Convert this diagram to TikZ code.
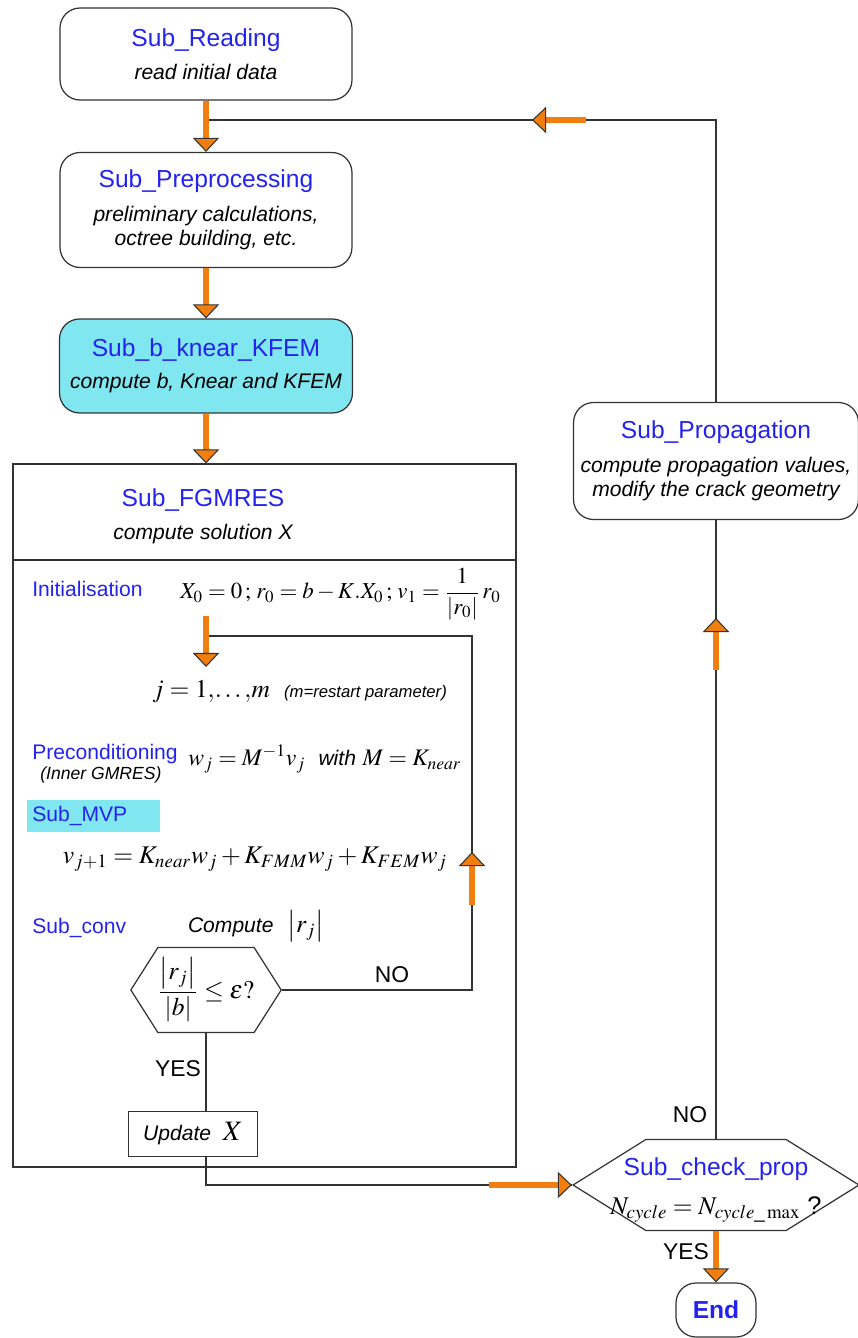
\documentclass[tikz,border=0pt]{standalone}
\usepackage{amsmath}
\usepackage{mathptmx}
\usepackage[no-math]{fontspec}
\setmainfont{Liberation Sans}
\usepackage{xcolor}
\usepackage{tikz}
\usetikzlibrary{arrows.meta,positioning,shapes.symbols,calc}
\definecolor{subblue}{HTML}{2323F0}
\definecolor{flowor}{HTML}{F07F10}
\definecolor{cyanfill}{HTML}{80E6F0}
\definecolor{linegray}{HTML}{333333}
\newcommand{\subttl}[1]{{\color{subblue}\fontsize{14}{14}\selectfont\upshape #1}}

\begin{document}
\begin{tikzpicture}[x=0.02cm,y=-0.02cm,
  font=\fontsize{12}{14}\selectfont,
  box/.style={draw=linegray,line width=0.7pt,rounded corners=0.4cm,align=center,
              font=\fontsize{12}{14}\selectfont\itshape},
  lbl/.style={text=subblue,anchor=west,inner sep=0pt},
  eq/.style={font=\fontsize{14.5}{17}\selectfont,inner sep=0pt},
  hex/.style={draw=linegray,line width=0.7pt,signal,signal to=west and east,inner sep=0pt},
  conn/.style={draw=linegray,line width=0.7pt},
  arr/.style={draw=flowor,line width=3.6pt,
              -{Triangle[length=8pt,width=15pt,color=linegray,fill=flowor,line width=0.6pt]}},
  ans/.style={font=\fontsize{13}{15}\selectfont}
]
\useasboundingbox (0,0) rectangle (858,1338);

% main chain
\node[box,minimum width=5.84cm,minimum height=1.84cm] (read) at (206,54)
  {\subttl{Sub\_Reading}\\[5pt]read initial data};
\node[box,minimum width=5.84cm,minimum height=2.3cm] (pre) at (206,210)
  {\subttl{Sub\_Preprocessing}\\[5pt]preliminary calculations,\\octree building, etc.};
\node[box,fill=cyanfill,minimum width=5.86cm,minimum height=1.88cm] (kfem) at (206,366)
  {\subttl{Sub\_b\_knear\_KFEM}\\[4pt]compute b, Knear and KFEM};
\node[box,minimum width=5.7cm,minimum height=2.34cm] (prop) at (716,461)
  {\subttl{Sub\_Propagation}\\[5pt]compute propagation values,\\modify the crack geometry};

% FGMRES block
\node[draw=linegray,line width=0.7pt,minimum width=10.06cm,minimum height=14.06cm,inner sep=0pt] (fg) at (264.5,815.5) {};
\node[align=center,font=\fontsize{12}{14}\selectfont\itshape] (fgT) at (203,516)
  {\subttl{Sub\_FGMRES}\\[5pt]compute solution X};
\coordinate (divL) at (13,560);
\coordinate (divR) at (516,560);
\draw[conn] (divL) -- (divR);

\node[lbl] (init) at (32,589) {Initialisation};
\node[eq,anchor=west,font=\fontsize{13}{16}\selectfont] (initEq) at (180,594)
  {$X_0=0\,;\,r_0=b-K.X_0\,;\,v_1=\dfrac{1}{\left|r_0\right|}\,r_0$};
\node[eq,anchor=west] (jl) at (152,692)
  {$j=1,\!\ldots,\!m$\ \ {\fontsize{9.5}{12}\selectfont\itshape (m=restart parameter)}};
\node[lbl] (prec) at (32,754) {Preconditioning};
\node[anchor=west,inner sep=0pt,font=\fontsize{10}{12}\selectfont\itshape] (inner) at (40,775) {(Inner GMRES)};
\node[eq,anchor=west,font=\fontsize{13.5}{16}\selectfont] (precEq) at (188,759)
  {$w_j=M^{-1}v_j$\ \ {\fontsize{12}{14}\selectfont\itshape with}\ $M=K_{near}$};
\node[lbl,fill=cyanfill,inner xsep=0.1cm,text width=2.45cm,minimum height=0.64cm,align=left] (mvp) at (27,816) {Sub\_MVP};
\node[eq] (mvpEq) at (255,859) {$v_{j+1}=K_{near}w_j+K_{FMM}w_j+K_{FEM}w_j$};
\node[lbl] (convL) at (32,928) {Sub\_conv};
\node[eq] (cmp) at (256,926) {{\fontsize{12}{14}\selectfont\itshape Compute}\ \ $\bigl|r_j\bigr|$};
\node[hex,signal pointer angle=115,minimum width=2.94cm,minimum height=1.7cm,
      font=\fontsize{14.5}{17}\selectfont] (conv) at (206,990)
  {$\dfrac{\left|r_j\right|}{\left|b\right|}\leq\varepsilon?$};
\node[ans] (no1) at (392,975) {NO};
\node[ans] (yes1) at (178,1069) {YES};
\node[draw=linegray,line width=0.7pt,minimum width=2.58cm,minimum height=0.9cm] (upd) at (193,1134)
  {\textit{Update}\ \ {\fontsize{16}{18}\selectfont$X$}};

% check and end
\node[hex,signal pointer angle=64,minimum width=5.72cm,minimum height=1.82cm] (chk) at (716,1185) {};
\node[align=center,inner sep=0pt] (chkT) at (716,1190)
  {\subttl{Sub\_check\_prop}\\[8pt]{\fontsize{14.5}{17}\selectfont$N_{cycle}=N_{cycle\_\max}$ ?}};
\node[ans] (no2) at (690,1115) {NO};
\node[ans] (yes2) at (686,1252) {YES};
\node[draw=linegray,line width=0.7pt,rounded corners=0.4cm,minimum width=1.6cm,minimum height=1.08cm,
      text=subblue,font=\fontsize{14}{16}\selectfont\bfseries] (end) at (716,1310) {End};

% connectors
\coordinate (fbJ) at (206,120);
\coordinate (initA) at (206,616);
\coordinate (initB) at (206,667);
\coordinate (loopT) at (472,636);
\coordinate (loopA) at (472,905);
\coordinate (loopB) at (472,852);
\coordinate (rA) at (489,1185);
\coordinate (upA) at (716,670);
\coordinate (upB) at (716,618);
\coordinate (lA) at (586,120);
\coordinate (lB) at (532,120);

\draw[conn] (prop.north) |- (fbJ);
\draw[conn] (conv.east) -| (loopT) -- (loopT -| initA);
\draw[conn] (conv.south) -- (conv.south |- upd.north);
\draw[conn] (conv.south |- upd.south) |- (chk.west);
\draw[conn] (chk.north) -- (prop.south);

\draw[arr] (read) -- (pre);
\draw[arr] (pre) -- (kfem);
\draw[arr] (kfem.south) -- (kfem.south |- fg.north);
\draw[arr] (initA) -- (initB);
\draw[arr] (loopA) -- (loopB);
\draw[arr] (rA) -- (chk.west);
\draw[arr] (upA) -- (upB);
\draw[arr] (lA) -- (lB);
\draw[arr] (chk.south) -- (end.north);
\end{tikzpicture}
\end{document}
